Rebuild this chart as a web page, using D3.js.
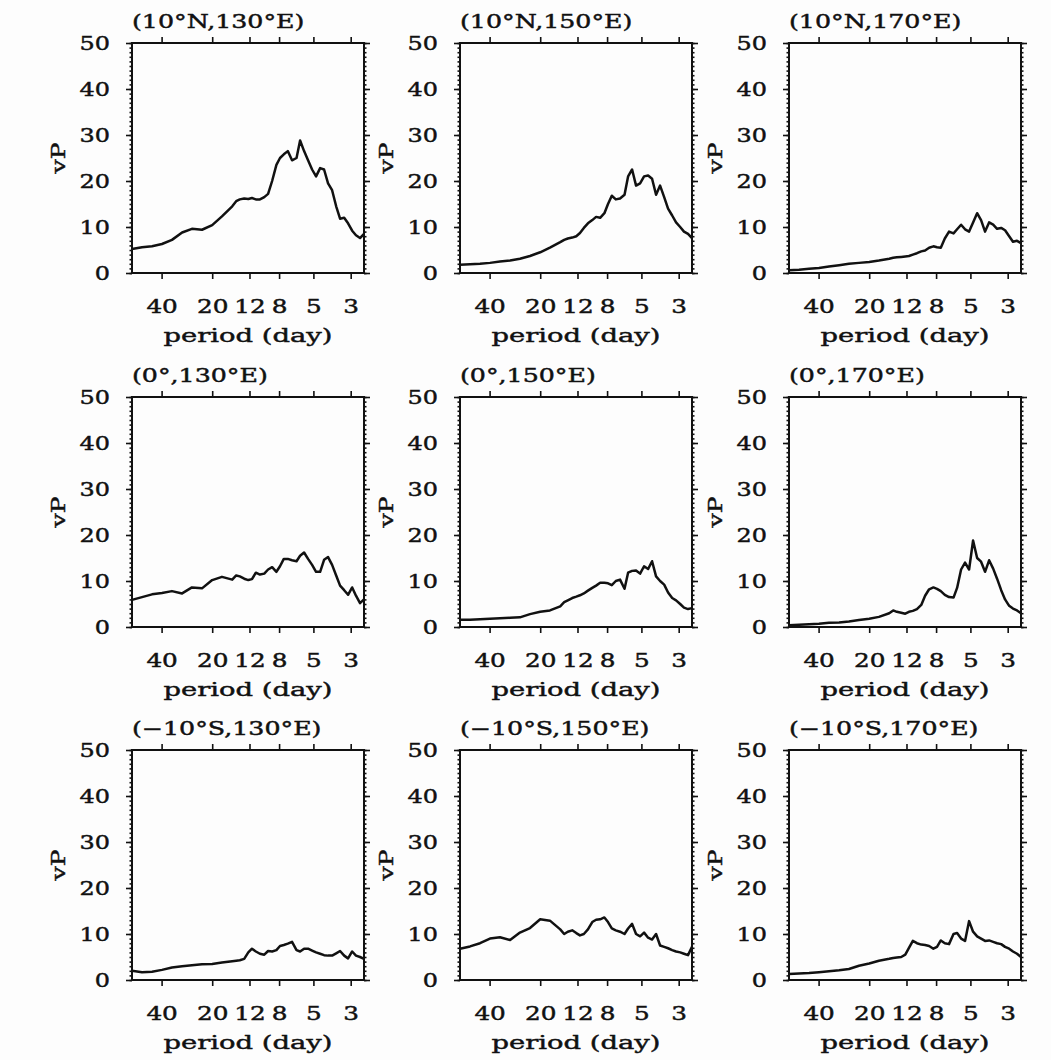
<!DOCTYPE html>
<html>
<head>
<meta charset="utf-8">
<script src="https://cdn.jsdelivr.net/npm/d3@7"></script>
<style>
  body { margin: 0; background: #fdfdfd; }
  svg text { font-family: 'DejaVu Serif', serif; fill: #111; stroke: #111; stroke-width: 0.45px; }
</style>
</head>
<body>
<svg id="chart"></svg>
<script>
const periods = [60, 52.3, 45.6, 39.8, 34.7, 30.2, 26.4, 23, 20, 17.5, 15.2,
  14.4, 13.7, 12.9, 12.2, 11.6, 11, 10.4, 9.8, 9.3, 8.8, 8.3, 7.9, 7.5, 7.1, 6.7, 6.3, 6,
  5.68, 5.38, 5.09, 4.82, 4.56, 4.32, 4.09, 3.87, 3.66, 3.47, 3.28, 3.11, 2.94, 2.79, 2.64, 2.5]

const vp10N130 = [5.2, 5.6, 5.8, 6.3, 7.2, 8.8, 9.6, 9.4, 10.4, 12.3, 14.5,
  15.6, 16.0, 16.2, 16.1, 16.3, 16.0, 16.0, 16.5, 17.2, 20.0, 23.5, 25.0, 25.8, 26.5, 24.5, 25.0,
  28.8, 26.5, 24.5, 22.5, 21.0, 22.8, 22.5, 19.5, 18.0, 14.5, 11.8, 12.0, 10.8, 9.2, 8.2, 7.6, 8.5]
const vp10N150 = [1.8, 1.9, 2.0, 2.2, 2.5, 2.7, 3.1, 3.7, 4.5, 5.5, 6.7,
  7.2, 7.5, 7.7, 8.0, 8.7, 9.8, 10.8, 11.5, 12.2, 12.0, 13.0, 15.0, 16.8, 16.0, 16.2, 17.0,
  21.0, 22.5, 19.0, 19.5, 21.0, 21.2, 20.5, 17.0, 19.0, 16.5, 14.0, 12.5, 11.0, 10.0, 9.0, 8.5, 7.6]
const vp10N170 = [0.6, 0.7, 0.9, 1.1, 1.4, 1.7, 2.0, 2.2, 2.4, 2.7, 3.1,
  3.3, 3.4, 3.5, 3.6, 3.7, 4.0, 4.3, 4.7, 4.9, 5.5, 5.8, 5.6, 5.5, 7.5, 9.0, 8.6,
  9.5, 10.5, 9.5, 9.0, 11.0, 13.0, 11.5, 9.0, 11.0, 10.5, 9.6, 9.8, 9.3, 8.0, 6.8, 7.0, 6.5]
const vp0N130 = [5.9, 6.5, 7.1, 7.4, 7.8, 7.3, 8.6, 8.4, 10.2, 10.9, 10.3,
  11.2, 11.0, 10.5, 10.2, 10.4, 11.8, 11.4, 11.6, 12.5, 13.0, 12.0, 13.2, 14.8, 14.8, 14.5, 14.3,
  15.5, 16.2, 14.8, 13.5, 12.0, 12.0, 14.6, 15.2, 13.5, 11.2, 9.0, 8.0, 7.0, 8.6, 6.8, 5.2, 6.0]
const vp0N150 = [1.6, 1.6, 1.7, 1.8, 1.9, 2.0, 2.1, 2.8, 3.3, 3.6, 4.5,
  5.4, 5.8, 6.3, 6.6, 6.9, 7.3, 7.9, 8.5, 9.0, 9.6, 9.6, 9.5, 9.1, 10.0, 10.3, 8.3,
  11.8, 12.2, 12.3, 11.6, 13.2, 12.6, 14.3, 11.0, 10.0, 9.2, 7.5, 6.3, 5.8, 5.0, 4.2, 3.9, 4.1]
const vp0N170 = [0.4, 0.5, 0.6, 0.7, 0.9, 1.0, 1.2, 1.5, 1.8, 2.2, 3.0,
  3.6, 3.3, 3.1, 2.9, 3.3, 3.5, 3.9, 4.8, 6.8, 8.2, 8.6, 8.3, 7.8, 7.0, 6.5, 6.4,
  8.5, 12.5, 14.0, 12.5, 18.8, 15.0, 14.2, 12.0, 14.5, 12.7, 10.5, 8.0, 6.0, 4.6, 4.0, 3.6, 3.0]
const vp10S130 = [2.0, 1.7, 1.8, 2.2, 2.7, 3.0, 3.2, 3.4, 3.5, 3.8, 4.1,
  4.2, 4.3, 4.6, 6.0, 6.8, 6.2, 5.7, 5.5, 6.3, 6.2, 6.5, 7.4, 7.6, 7.9, 8.3, 6.5,
  6.2, 6.8, 6.8, 6.4, 6.0, 5.7, 5.4, 5.3, 5.3, 5.8, 6.3, 5.3, 4.7, 6.2, 5.3, 5.0, 4.6]
const vp10S150 = [6.8, 7.3, 8.0, 9.0, 9.3, 8.7, 10.3, 11.3, 13.2, 12.9, 11.0,
  10.0, 10.5, 10.8, 10.2, 9.7, 10.0, 11.0, 12.6, 13.1, 13.2, 13.6, 12.6, 11.2, 10.8, 10.5, 10.0,
  11.2, 12.2, 10.0, 9.5, 10.3, 9.2, 8.8, 10.0, 7.5, 7.2, 6.9, 6.5, 6.2, 6.0, 5.7, 5.4, 7.2]
const vp10S170 = [1.3, 1.4, 1.5, 1.7, 1.9, 2.1, 2.4, 3.1, 3.6, 4.2, 4.6,
  4.8, 4.9, 5.0, 5.5, 7.0, 8.5, 8.0, 7.7, 7.6, 7.4, 6.8, 7.2, 8.6, 8.0, 7.8, 10.0,
  10.2, 9.0, 8.5, 12.8, 10.5, 9.5, 9.0, 8.5, 8.6, 8.3, 8.0, 7.8, 7.2, 6.8, 6.2, 5.7, 5.0]

const titles = ['(10°N,130°E)', '(10°N,150°E)', '(10°N,170°E)',
  '(0°,130°E)', '(0°,150°E)', '(0°,170°E)',
  '(\u221210°S,130°E)', '(\u221210°S,150°E)', '(\u221210°S,170°E)']
const series = [vp10N130, vp10N150, vp10N170, vp0N130, vp0N150, vp0N170, vp10S130, vp10S150, vp10S170]

const xTicks = [40, 20, 12, 8, 5, 3]
const yTicks = [0, 10, 20, 30, 40, 50]
const yMinor = d3.range(0, 51, 1)

const W = 232
const H = 230
const colLeft = [132, 460, 789]
const rowTop = [43, 397, 750]

const svg = d3.select('#chart').attr('width', 1051).attr('height', 1060)

const x = d3.scaleLog().domain([60, 2.5]).range([0, W])
const y = d3.scaleLinear().domain([0, 50]).range([H, 0])

const line = d3.line()
  .x((d, i) => x(periods[i]))
  .y(d => y(d))

// the reference font is much wider than DejaVu Serif, so stretch the glyphs
const stretch = (sel, k) => {
  sel.each(function () {
    const len = this.getComputedTextLength()
    d3.select(this).attr('textLength', len * k).attr('lengthAdjust', 'spacingAndGlyphs')
  })
}

const styleAxis = (g) => {
  g.select('.domain').remove()
  g.selectAll('line').attr('stroke', '#111').attr('stroke-width', 1.6)
  g.selectAll('text').attr('font-family', null).attr('font-size', 19).attr('fill', '#111')
}

series.forEach((values, i) => {
  const g = svg.append('g')
    .attr('transform', `translate(${colLeft[i % 3]},${rowTop[Math.floor(i / 3)]})`)

  // bottom axis with labels
  g.append('g')
    .attr('transform', `translate(0,${H})`)
    .call(d3.axisBottom(x).tickValues(xTicks).tickFormat(d3.format('d')).tickSize(6).tickPadding(21))
    .call(styleAxis)
    .call(a => stretch(a.selectAll('text'), 1.3))

  g.append('g')
    .call(d3.axisTop(x).tickValues(xTicks).tickFormat('').tickSize(6))
    .call(styleAxis)

  // left axis
  g.append('g')
    .call(d3.axisLeft(y).tickValues(yMinor).tickFormat('').tickSize(2.5))
    .call(styleAxis)
  g.append('g')
    .call(d3.axisLeft(y).tickValues(yTicks).tickSize(6).tickPadding(16))
    .call(styleAxis)
    .call(a => stretch(a.selectAll('text'), 1.26))

  // right axis
  g.append('g')
    .attr('transform', `translate(${W},0)`)
    .call(d3.axisRight(y).tickValues(yMinor).tickFormat('').tickSize(2.5))
    .call(styleAxis)
  g.append('g')
    .attr('transform', `translate(${W},0)`)
    .call(d3.axisRight(y).tickValues(yTicks).tickFormat('').tickSize(6))
    .call(styleAxis)

  g.append('path')
    .datum(values)
    .attr('fill', 'none')
    .attr('stroke', '#111')
    .attr('stroke-width', 2.5)
    .attr('stroke-linejoin', 'round')
    .attr('d', line)

  g.append('rect')
    .attr('width', W)
    .attr('height', H)
    .attr('fill', 'none')
    .attr('stroke', '#111')
    .attr('stroke-width', 2)

  g.append('text')
    .attr('x', 0)
    .attr('y', -15)
    .attr('font-size', 19)
    .text(titles[i])
    .call(t => stretch(t, 1.33))

  g.append('text')
    .attr('x', W / 2)
    .attr('y', H + 69)
    .attr('text-anchor', 'middle')
    .attr('font-size', 19)
    .text('period (day)')
    .call(t => stretch(t, 1.44))

  g.append('text')
    .attr('transform', `translate(-67,${H / 2}) rotate(-90)`)
    .attr('text-anchor', 'middle')
    .attr('font-size', 19)
    .text('vP')
    .call(t => stretch(t, 1.32))
})
</script>
</body>
</html>
